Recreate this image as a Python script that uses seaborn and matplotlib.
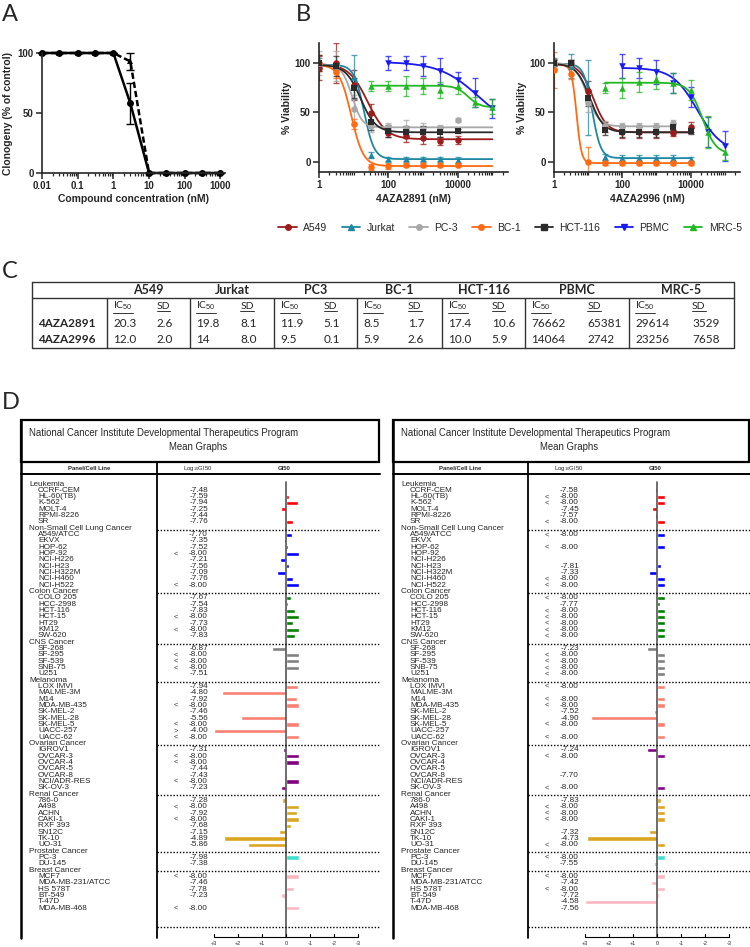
import numpy as np
import pandas as pd
import matplotlib
matplotlib.use("Agg")
import matplotlib.pyplot as plt
from matplotlib.lines import Line2D
from matplotlib.patches import Rectangle
from matplotlib.ticker import LogLocator, NullFormatter
import seaborn as sns

# ---------------- A: clonogenic assay ----------------
conc_a = [0.01, 0.03, 0.1, 0.3, 1, 3, 10, 30, 100, 300, 1000]
clono_solid = [100, 100, 100, 100, 100, 58, 0, 0, 0, 0, 0]
clono_solid_sd = [0, 0, 0, 0, 0, 17, 0, 0, 0, 0, 0]
clono_dashed = [100, 100, 100, 100, 100, 93, 0, 0, 0, 0, 0]
clono_dashed_sd = [0, 0, 0, 0, 0, 7, 0, 0, 0, 0, 0]

# ---------------- B: viability ----------------
nan = np.nan
cells_b = ["A549", "Jurkat", "PC-3", "BC-1", "HCT-116", "PBMC", "MRC-5"]
colors_b = ["#9c1c1c", "#1f87a3", "#a8a8a8", "#ff6a13", "#2b2b2b", "#1a1aef", "#22b822"]
markers_b = ["o", "^", "o", "o", "s", "v", "^"]
conc_b = [1, 3.16, 10, 31.6, 100, 316, 1000, 3162, 10000, 31623, 100000]

via_2891 = {
    "A549":    [95, 100, 78, 49, 29, 26, 24, 21, 22, nan, nan],
    "Jurkat":  [100, 96, 86, 7, 3, 3, 3, 3, 2, nan, nan],
    "PC-3":    [100, 97, 53, 36, 35, 34, 33, 34, 42, nan, nan],
    "BC-1":    [100, 91, 38, -5, -4, -3, -3, -3, -3, nan, nan],
    "HCT-116": [100, 97, 75, 40, 31, 30, 30, 30, 31, nan, nan],
    "PBMC":    [nan, nan, nan, nan, 100, 100, 97, 92, 83, 70, 54],
    "MRC-5":   [nan, nan, nan, 77, 77, 77, 77, 73, 77, 61, 56],
}
sd_2891 = {
    "A549":    [12, 20, 15, 10, 4, 6, 6, 4, 4, nan, nan],
    "Jurkat":  [5, 5, 22, 3, 2, 2, 2, 2, 3, nan, nan],
    "PC-3":    [12, 15, 15, 6, 4, 8, 6, 3, 2, nan, nan],
    "BC-1":    [8, 6, 5, 3, 3, 2, 2, 2, 2, nan, nan],
    "HCT-116": [8, 10, 10, 8, 6, 6, 6, 5, 2, nan, nan],
    "PBMC":    [nan, nan, nan, nan, 7, 7, 10, 13, 8, 15, 10],
    "MRC-5":   [nan, nan, nan, 5, 5, 10, 8, 8, 8, 5, 8],
}
via_2996 = {
    "A549":    [99, 100, 72, 35, 30, 30, 30, 29, 35, nan, nan],
    "Jurkat":  [100, 97, 65, 5, 4, 4, 4, 4, 3, nan, nan],
    "PC-3":    [100, 100, 60, 36, 36, 36, 36, 39, nan, nan, nan],
    "BC-1":    [93, 89, 0, -1, -1, -1, -1, -1, -1, nan, nan],
    "HCT-116": [100, 100, 65, 32, 30, 30, 30, 35, 31, nan, nan],
    "PBMC":    [nan, nan, nan, nan, 97, 95, 91, 80, 66, 30, 16],
    "MRC-5":   [nan, nan, nan, 75, 75, 81, 84, 80, 73, 30, 10],
}
sd_2996 = {
    "A549":    [5, 3, 10, 5, 6, 6, 6, 3, 5, nan, nan],
    "Jurkat":  [5, 12, 38, 3, 3, 3, 3, 3, 2, nan, nan],
    "PC-3":    [3, 3, 10, 5, 3, 3, 3, 3, nan, nan, nan],
    "BC-1":    [18, 5, 15, 2, 2, 2, 2, 2, 2, nan, nan],
    "HCT-116": [3, 3, 8, 5, 5, 5, 5, 3, 3, nan, nan],
    "PBMC":    [nan, nan, nan, nan, 12, 10, 12, 10, 10, 15, 15],
    "MRC-5":   [nan, nan, nan, 5, 10, 10, 10, 10, 10, 16, 8],
}
# fitted 4PL curves: (top, bottom, logIC50, hill)
fit_2891 = {
    "A549": (99, 23, 1.40, 1.6), "Jurkat": (98, 3, 1.30, 3.0),
    "PC-3": (98, 35, 0.95, 3.0), "BC-1": (98, -4, 0.93, 2.5),
    "HCT-116": (98, 30, 1.20, 2.0), "PBMC": (101, 30, 4.62, 0.76),
    "MRC-5": (77, 55, 4.30, 2.5),
}
fit_2996 = {
    "A549": (99, 30, 1.15, 2.2), "Jurkat": (99, 4, 1.12, 3.5),
    "PC-3": (100, 36, 0.97, 2.5), "BC-1": (98, -1, 0.66, 6.0),
    "HCT-116": (99, 30, 1.05, 2.2), "PBMC": (95, 10, 4.20, 1.2),
    "MRC-5": (80, 8, 4.35, 2.2),
}

# ---------------- C: IC50 table ----------------
compounds = ["4AZA2891", "4AZA2996"]
cells_c = ["A549", "Jurkat", "PC3", "BC-1", "HCT-116", "PBMC", "MRC-5"]
ic50_2891 = ["20.3", "19.8", "11.9", "8.5", "17.4", "76662", "29614"]
icsd_2891 = ["2.6", "8.1", "5.1", "1.7", "10.6", "65381", "3529"]
ic50_2996 = ["12.0", "14", "9.5", "5.9", "10.0", "14064", "23256"]
icsd_2996 = ["2.0", "8.0", "0.1", "2.6", "5.9", "2742", "7658"]

# ---------------- D: NCI-60 mean graphs ----------------
panels = ["Leukemia", "Non-Small Cell Lung Cancer", "Colon Cancer", "CNS Cancer",
          "Melanoma", "Ovarian Cancer", "Renal Cancer", "Prostate Cancer", "Breast Cancer"]
panel_colors = ["#ff0000", "#0000ff", "#008000", "#808080", "#fa8072",
                "#800080", "#daa520", "#40e0d0", "#ffb6c1"]
leukemia = ["CCRF-CEM", "HL-60(TB)", "K-562", "MOLT-4", "RPMI-8226", "SR"]
nsclc = ["A549/ATCC", "EKVX", "HOP-62", "HOP-92", "NCI-H226", "NCI-H23",
         "NCI-H322M", "NCI-H460", "NCI-H522"]
colon = ["COLO 205", "HCC-2998", "HCT-116", "HCT-15", "HT29", "KM12", "SW-620"]
cns = ["SF-268", "SF-295", "SF-539", "SNB-75", "U251"]
melanoma = ["LOX IMVI", "MALME-3M", "M14", "MDA-MB-435", "SK-MEL-2", "SK-MEL-28",
            "SK-MEL-5", "UACC-257", "UACC-62"]
ovarian = ["IGROV1", "OVCAR-3", "OVCAR-4", "OVCAR-5", "OVCAR-8", "NCI/ADR-RES", "SK-OV-3"]
renal = ["786-0", "A498", "ACHN", "CAKI-1", "RXF 393", "SN12C", "TK-10", "UO-31"]
prostate = ["PC-3", "DU-145"]
breast = ["MCF7", "MDA-MB-231/ATCC", "HS 578T", "BT-549", "T-47D", "MDA-MB-468"]
panel_lines = [leukemia, nsclc, colon, cns, melanoma, ovarian, renal, prostate, breast]

loggi50_2891 = [-7.48, -7.59, -7.94, -7.25, -7.44, -7.76,
                -7.70, -7.35, -7.52, -8.00, -7.21, -7.56, -7.09, -7.76, -8.00,
                -7.67, -7.54, -7.83, -8.00, -7.73, -8.00, -7.83,
                -6.87, -8.00, -8.00, -8.00, -7.51,
                -7.94, -4.80, -7.92, -8.00, -7.46, -5.56, -8.00, -4.00, -8.00,
                -7.31, -8.00, -8.00, -7.44, -7.43, -8.00, -7.23,
                -7.28, -8.00, -7.92, -8.00, -7.68, -7.15, -4.89, -5.86,
                -7.98, -7.38,
                -8.00, -7.46, -7.78, -7.23, nan, -8.00]
loggi50_2996 = [-7.58, -8.00, -8.00, -7.45, -7.57, -8.00,
                -8.00, nan, -8.00, nan, nan, -7.81, -7.33, -8.00, -8.00,
                -8.00, -7.77, -8.00, -8.00, -8.00, -8.00, -8.00,
                -7.23, -8.00, -8.00, -8.00, -8.00,
                -8.00, nan, -8.00, -8.00, -7.52, -4.90, -8.00, nan, -8.00,
                -7.24, -8.00, nan, nan, -7.70, nan, -8.00,
                -7.83, -8.00, -8.00, -8.00, nan, -7.32, -4.73, -8.00,
                -8.00, -7.55,
                -8.00, -7.42, -8.00, -7.72, -4.58, -7.56]
LOWEST_TESTED, HIGHEST_TESTED = -8.0, -4.0

# ---------------- figure ----------------
sns.set_style("ticks")
plt.rcParams["font.family"] = ["Liberation Sans", "DejaVu Sans"]
plt.rcParams["mathtext.fontset"] = "custom"
plt.rcParams["mathtext.rm"] = "Liberation Sans"

W, H = 750, 947
fig = plt.figure(figsize=(W / 100, H / 100), dpi=100)


def rect(x0, y0, x1, y1):
    return [x0 / W, 1 - y1 / H, (x1 - x0) / W, (y1 - y0) / H]


ov = fig.add_axes([0, 0, 1, 1])
ov.set_xlim(0, W)
ov.set_ylim(H, 0)
ov.axis("off")
ov.set_zorder(10)

for letter, x, y in [("A", 2, 14), ("B", 296, 14), ("C", 2, 271), ("D", 2, 402)]:
    ov.text(x, y, letter, fontsize=17, family="Lato", va="center", ha="left")


def prism_axes(ax):
    sns.despine(ax=ax)
    for s in ["left", "bottom"]:
        ax.spines[s].set_linewidth(1.2)
    ax.tick_params(which="major", length=4, width=1.1, labelsize=7, pad=2)
    ax.tick_params(which="minor", length=2, width=0.9)
    for lab in ax.get_xticklabels() + ax.get_yticklabels():
        lab.set_fontweight("bold")


# ---- A ----
axA = fig.add_axes(rect(42, 53, 225, 173))
sns.lineplot(x=conc_a, y=clono_solid, color="black", lw=1.8, marker="o",
             markersize=5, markeredgewidth=0, ax=axA)
sns.lineplot(x=conc_a, y=clono_dashed, color="black", lw=1.8, marker="^",
             markersize=5, markeredgewidth=0, dashes=(2.5, 1.2), ax=axA)
axA.errorbar(conc_a, clono_solid, yerr=clono_solid_sd, fmt="none", ecolor="black",
             capsize=3, lw=1, clip_on=False)
axA.errorbar(conc_a, clono_dashed, yerr=clono_dashed_sd, fmt="none", ecolor="black",
             capsize=3, lw=1, clip_on=False)
for ln in axA.lines:
    ln.set_clip_on(False)
axA.set_xscale("log")
axA.set_xlim(0.01, 10 ** 3.13)
axA.set_ylim(0, 100)
axA.set_xticks([0.01, 0.1, 1, 10, 100, 1000])
axA.set_xticklabels(["0.01", "0.1", "1", "10", "100", "1000"])
axA.xaxis.set_minor_locator(LogLocator(base=10, subs=np.arange(2, 10), numticks=20))
axA.xaxis.set_minor_formatter(NullFormatter())
axA.set_yticks([0, 50, 100])
prism_axes(axA)
axA.set_xlabel("Compound concentration (nM)", fontsize=7.5, fontweight="bold", labelpad=2)
axA.set_ylabel("Clonogeny (% of control)", fontsize=7.5, fontweight="bold", labelpad=3)


# ---- B ----
def viability_panel(ax, via, sd, fits, curve_end, xlabel):
    logc = np.log10(conc_b)
    for cell, col, mk in zip(cells_b, colors_b, markers_b):
        y = np.array(via[cell], dtype=float)
        ok = ~np.isnan(y)
        lo = logc[ok].min()
        hi = max(logc[ok].max(), curve_end if cell not in ("PBMC", "MRC-5") else 0)
        top, bot, c, h = fits[cell]
        xs = np.linspace(lo, hi, 200)
        ys = bot + (top - bot) / (1 + 10 ** (h * (xs - c)))
        sns.lineplot(x=10 ** xs, y=ys, color=col, lw=1.3, ax=ax)
        ax.errorbar(np.array(conc_b)[ok], y[ok], yerr=np.array(sd[cell])[ok], fmt="none",
                    ecolor=col, alpha=0.75, capsize=2.5, lw=0.9)
        sns.scatterplot(x=np.array(conc_b)[ok], y=y[ok], color=col, marker=mk, s=22,
                        edgecolor=col, linewidth=0, ax=ax, zorder=5)
    ax.set_xscale("log")
    ax.set_xlim(1, 10 ** 5.45)
    ax.set_ylim(-10, 120)
    ax.set_xticks([1, 100, 10000])
    ax.set_xticklabels(["1", "100", "10000"])
    ax.xaxis.set_minor_locator(LogLocator(base=10, subs="all", numticks=30))
    ax.xaxis.set_minor_formatter(NullFormatter())
    ax.set_yticks([0, 50, 100])
    prism_axes(ax)
    ax.set_xlabel(xlabel, fontsize=7.5, fontweight="bold", labelpad=3)
    ax.set_ylabel("% Viability", fontsize=7.5, fontweight="bold", labelpad=2)


axB1 = fig.add_axes(rect(319, 43, 508, 172))
viability_panel(axB1, via_2891, sd_2891, fit_2891, 5.0, "4AZA2891 (nM)")
axB2 = fig.add_axes(rect(554, 43, 740, 172))
viability_panel(axB2, via_2996, sd_2996, fit_2996, 0.0, "4AZA2996 (nM)")

handles = [Line2D([0], [0], color=c, marker=m, markersize=4, lw=1.3)
           for c, m in zip(colors_b, markers_b)]
fig.legend(handles, cells_b, ncol=7, loc="center", bbox_to_anchor=(510 / W, 1 - 228 / H),
           frameon=False, fontsize=7.5, handlelength=1.8, columnspacing=1.35,
           handletextpad=0.6)

# ---- C ----
col_x = [107, 190, 274, 357, 442, 525, 629, 734]
tl, tt, th, tb = 32, 282, 298, 348
lkw = dict(color="#333333", lw=1.0)
ov.plot([tl, col_x[-1], col_x[-1], tl, tl], [tt, tt, tb, tb, tt], **lkw)
ov.plot([tl, col_x[-1]], [th, th], **lkw)
for x in col_x[:-1]:
    ov.plot([x, x], [th, tb], **lkw)
underlined = []
for i, name in enumerate(cells_c):
    x0, x1 = col_x[i], col_x[i + 1]
    ov.text((x0 + x1) / 2, 290, name, family="Lato", fontweight="bold", fontsize=9,
            ha="center", va="center")
    sd_off = 0.6 * (x1 - x0)
    underlined.append(ov.text(x0 + 6, 306, "IC$_{50}$", family="Lato", fontsize=7.5,
                              ha="left", va="center"))
    underlined.append(ov.text(x0 + sd_off, 306, "SD", family="Lato", fontsize=7.5,
                              ha="left", va="center"))
    for y, ic, sd in [(323, ic50_2891[i], icsd_2891[i]), (339, ic50_2996[i], icsd_2996[i])]:
        ov.text(x0 + 6, y, ic, family="Lato", fontsize=8.5, ha="left", va="center")
        ov.text(x0 + sd_off, y, sd, family="Lato", fontsize=8.5, ha="left", va="center")
for y, cpd in zip([323, 339], compounds):
    ov.text(38, y, cpd, family="Lato", fontweight="bold", fontsize=8.5, ha="left", va="center")

# ---- D ----
ROW0, ROW_H, UNIT = 484, 6.33, 24
FS = 5.9


def ry(r):
    return ROW0 + ROW_H * r


def mean_graph(left_px, zero_px, right_px, box_right, loggi50):
    sep_px = zero_px - 129
    mean = np.nanmean(loggi50)
    order, recs, dotted = [], [], []
    r, k = 0, 0
    for pname, lines in zip(panels, panel_lines):
        if r > 0:
            dotted.append(r)
        ov.text(left_px + 8, ry(r), pname, fontsize=FS, ha="left", va="center")
        order.append(pname)
        r += 1
        for cl in lines:
            v = loggi50[k]
            k += 1
            ov.text(left_px + 17, ry(r), cl, fontsize=FS, ha="left", va="center")
            if not np.isnan(v):
                ov.text(zero_px - 78, ry(r), f"{v:.2f}", fontsize=FS, ha="right", va="center")
                q = "<" if v <= LOWEST_TESTED else (">" if v >= HIGHEST_TESTED else "")
                ov.text(zero_px - 110, ry(r), q, fontsize=FS - 0.5, ha="center", va="center",
                        color="#333333")
                recs.append(dict(row=cl, dev=float(np.clip(v - mean, -3, 3)), panel=pname))
            order.append(cl)
            r += 1
    df = pd.DataFrame(recs)
    axb = fig.add_axes(rect(zero_px - 3.5 * UNIT, ry(-0.5), zero_px + 3.5 * UNIT, ry(len(order) - 0.5)))
    sns.barplot(data=df, x="dev", y="row", order=order, hue="panel", hue_order=panels,
                palette=panel_colors, dodge=False, width=0.65, errorbar=None, legend=False,
                saturation=1, orient="y", ax=axb)
    axb.set_xlim(3.5, -3.5)
    axb.set_ylim(len(order) - 0.5, -0.5)
    axb.axis("off")

    # frame of the NCI sheet
    ov.add_patch(Rectangle((left_px, 420), box_right - left_px, 42, fill=False, lw=1.6,
                           edgecolor="black"))
    ov.plot([left_px, right_px], [474, 474], color="black", lw=1.4)
    ov.plot([left_px, left_px], [420, 938], color="black", lw=1.8)
    ov.plot([sep_px, sep_px], [462, 938], color="black", lw=1.3)
    ov.plot([zero_px, zero_px], [ry(-0.3), 937], color="#555555", lw=1.2)
    ov.text(left_px + 8, 433, "National Cancer Institute Developmental Therapeutics Program",
            fontsize=6.9, ha="left", va="center")
    ov.text(zero_px - 88, 447, "Mean Graphs", fontsize=6.9, ha="center", va="center")
    ov.text((left_px + sep_px) / 2, 468, "Panel/Cell Line", fontsize=4.3, fontweight="bold",
            ha="center", va="center")
    ov.text(zero_px - 88, 468, "Log$_{10}$GI50", fontsize=4.3, ha="center", va="center")
    ov.text(zero_px - 2, 468, "GI50", fontsize=4.3, fontweight="bold", ha="center", va="center")
    for d in dotted:
        ov.plot([sep_px, right_px], [ry(d) + 1.3, ry(d) + 1.3], color="black", lw=1.0,
                ls=(0, (1, 1.3)))
    ov.plot([sep_px, right_px], [927, 927], color="black", lw=1.0, ls=(0, (1, 1.3)))
    # GI50 scale
    ov.plot([zero_px - 3 * UNIT, zero_px + 3 * UNIT], [937, 937], color="black", lw=0.8)
    for t in range(-3, 4):
        xt = zero_px - t * UNIT
        ov.plot([xt, xt], [934, 937], color="black", lw=0.8)
        ov.text(xt, 943.5, f"+{t}" if t > 0 else str(t), fontsize=4, ha="center", va="center")


mean_graph(21, 286, 380, 379, loggi50_2891)
mean_graph(393, 657, 750, 749, loggi50_2996)

# underline table sub-headers
fig.canvas.draw()
renderer = fig.canvas.get_renderer()
for t in underlined:
    bb = t.get_window_extent(renderer)
    yline = H - bb.y0 + 0.5
    ov.plot([bb.x0, bb.x1], [yline, yline], color="#333333", lw=0.7)

fig.savefig("out.png", dpi=100)
